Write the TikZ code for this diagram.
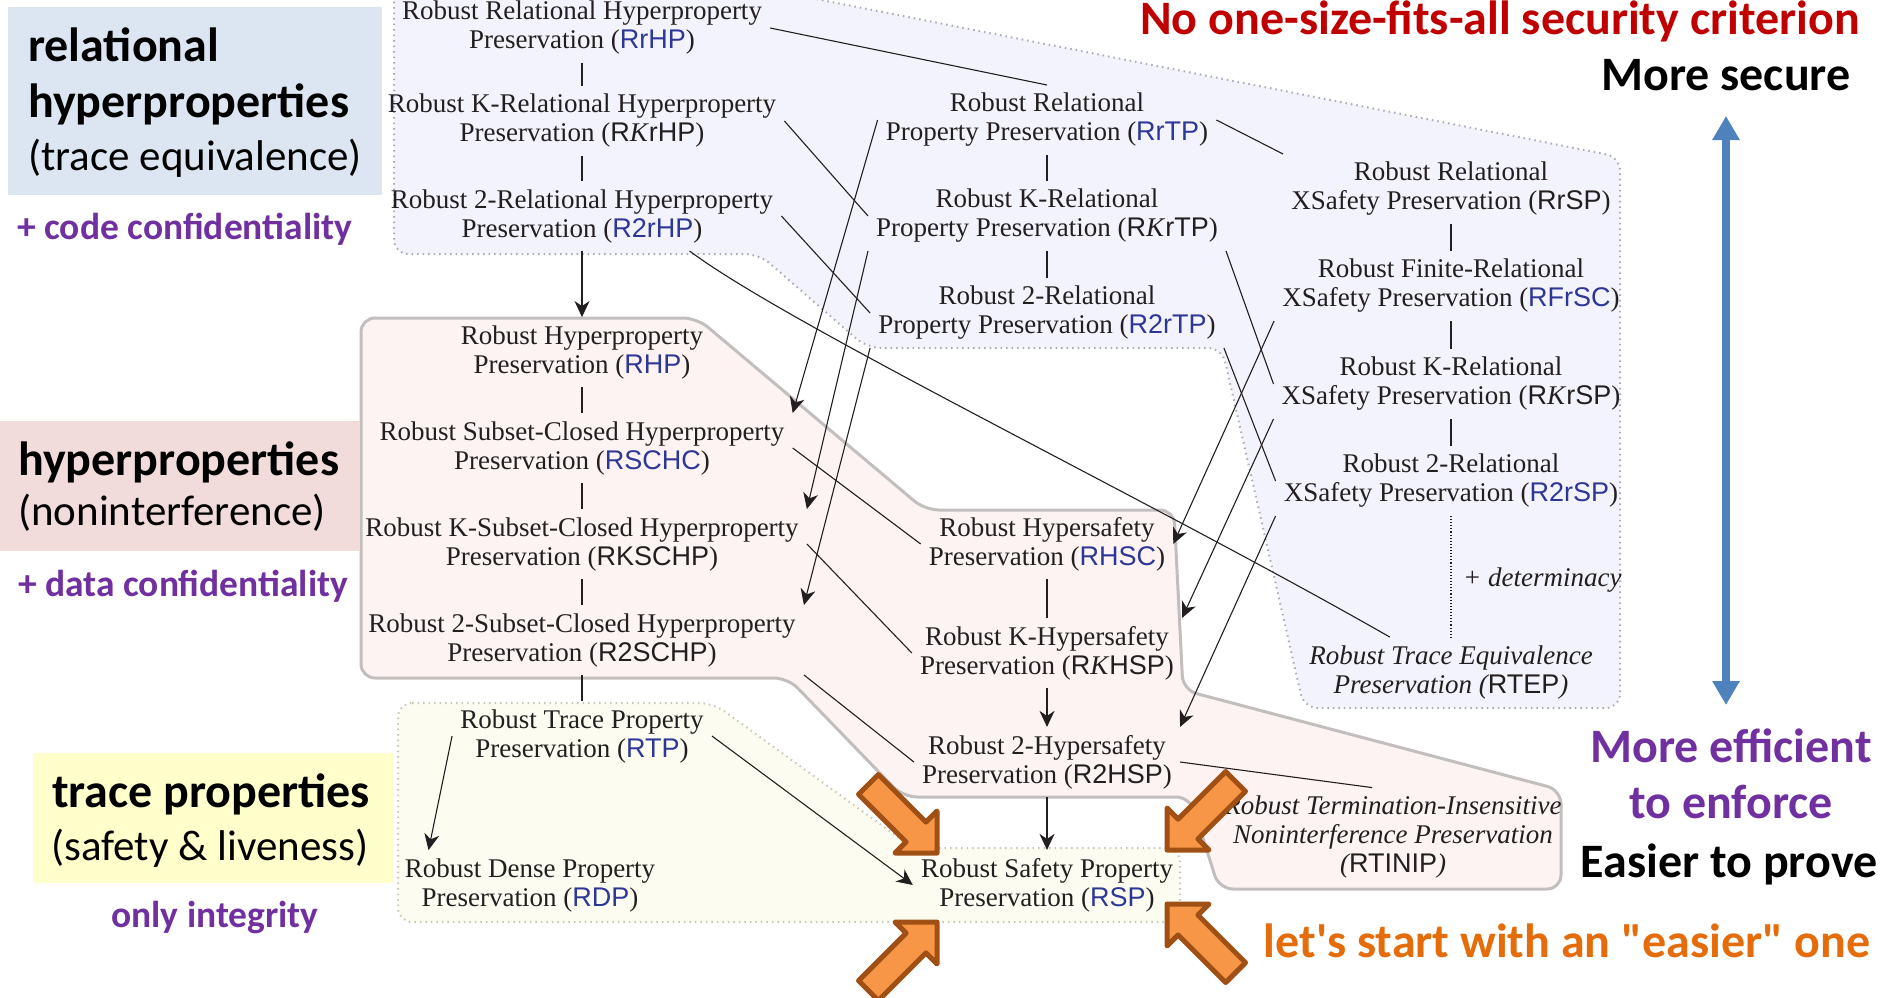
\documentclass[tikz,border=0pt]{standalone}
\usepackage{fontspec}
\setmainfont{Liberation Serif}
\setsansfont{Liberation Sans}
\newfontfamily\slide{Carlito}[Ligatures=TeXOff]
\usetikzlibrary{arrows.meta,calc}

\definecolor{ink}{RGB}{35,31,32}
\definecolor{abbr}{RGB}{45,55,150}
\definecolor{relfill}{RGB}{243,243,253}
\definecolor{relline}{RGB}{170,170,185}
\definecolor{hypfill}{RGB}{253,243,242}
\definecolor{hypline}{RGB}{195,190,190}
\definecolor{trfill}{RGB}{252,252,240}
\definecolor{trline}{RGB}{200,200,185}
\definecolor{relbox}{RGB}{220,230,242}
\definecolor{hypbox}{RGB}{242,220,219}
\definecolor{trbox}{RGB}{255,255,204}
\definecolor{purp}{RGB}{112,48,160}
\definecolor{darkred}{RGB}{192,0,0}
\definecolor{orangetxt}{RGB}{228,108,10}
\definecolor{orfill}{RGB}{247,150,70}
\definecolor{ordraw}{RGB}{160,80,20}
\definecolor{steel}{RGB}{79,129,189}

\newcommand\propsize{\fontsize{27}{29}\selectfont}
\newcommand\ab[1]{\textcolor{abbr}{\textsf{#1}}}
\newcommand\kk{\textit{K}}

\tikzset{
  prop/.style={align=center, font=\propsize, text=ink, inner sep=8pt},
  conn/.style={draw=ink, line width=1.1pt},
  arr/.style={conn, -{Stealth[length=16pt,width=15pt,inset=5pt]}},
  region/.style={rounded corners=14pt},
  labelbig/.style={font=\slide\bfseries\fontsize{48}{50}\selectfont, inner sep=0pt},
  labelsub/.style={font=\slide\fontsize{43}{48}\selectfont, inner sep=0pt},
  note/.style={font=\slide\bfseries\fontsize{37.5}{40}\selectfont, text=purp, inner sep=0pt},
  slidetxt/.style={font=\slide\bfseries\fontsize{48}{50}\selectfont, inner sep=0pt},
  bigarrow/.pic={
    \path[fill=orfill, draw=ordraw, line width=5pt, line join=round]
      (0,0) -- (0,-42) -- (-11.1,-30.9) -- (-58.7,-78.5) -- (-78.5,-58.7)
      -- (-30.9,-11.1) -- (-42,0) -- cycle;
  }
}

\begin{document}
\begin{tikzpicture}[x=1pt,y=-1pt]
\useasboundingbox (0,0) rectangle (1883,997);

% shaded families of criteria
\path[region, fill=relfill, draw=relline, line width=2pt, dash pattern=on 1.5pt off 4pt]
  (394,-40) -- (394,254) -- (759,254) -- (867,348) -- (1222,348) -- (1304,708)
  -- (1620,708) -- (1620,157) -- (618,-40) -- cycle;
\path[region, fill=hypfill, draw=hypline, line width=3pt]
  (361,318) -- (697,318) -- (925,510) -- (1174,510) -- (1183,690) -- (1561,790)
  -- (1561,889) -- (1219,889) -- (1190,797) -- (903,797) -- (788,678) -- (361,678) -- cycle;
\path[region, fill=trfill, draw=trline, line width=2pt, dash pattern=on 1.5pt off 4pt]
  (398,703) -- (713,703) -- (913,848) -- (1180,848) -- (1180,922) -- (398,922) -- cycle;

% category labels on the left
\fill[relbox] (8,7) rectangle (382,195);
\fill[hypbox] (0,421) rectangle (360,551);
\fill[trbox] (33,753) rectangle (394,883);

\node[labelbig, anchor=base west] (relA) at (28,61) {relational};
\node[labelbig, anchor=base west] (relB) at (28,117) {hyperproperties};
\node[labelsub, anchor=base west] (relC) at (28,170) {(trace equivalence)};
\node[note, anchor=base west] (relN) at (17,239) {+ code confidentiality};
\node[labelbig, anchor=base west] (hypA) at (18,475) {hyperproperties};
\node[labelsub, anchor=base west] (hypB) at (18,525) {(noninterference)};
\node[note, anchor=base west] (hypN) at (18,596) {+ data confidentiality};
\node[labelbig, anchor=base] (trA) at (211,807) {trace properties};
\node[labelsub, anchor=base] (trB) at (210,860) {(safety \& liveness)};
\node[note, anchor=base] (trN) at (215,927) {only integrity};

% relational hyperproperties and relational properties
\node[prop] (RrHP) at (582,28) {Robust Relational Hyperproperty\\Preservation (\ab{RrHP})};
\node[prop] (RKrHP) at (582,121) {Robust K-Relational Hyperproperty\\Preservation (\textsf{R}\kk\textsf{rHP})};
\node[prop] (R2rHP) at (582,216) {Robust 2-Relational Hyperproperty\\Preservation (\ab{R2rHP})};
\node[prop] (RrTP) at (1047,120) {Robust Relational\\Property Preservation (\ab{RrTP})};
\node[prop] (RKrTP) at (1047,216) {Robust K-Relational\\Property Preservation (\textsf{R}\kk\textsf{rTP})};
\node[prop] (R2rTP) at (1047,313) {Robust 2-Relational\\Property Preservation (\ab{R2rTP})};
\node[prop] (RrSP) at (1451,189) {Robust Relational\\XSafety Preservation (\textsf{RrSP})};
\node[prop] (RFrSC) at (1451,286) {Robust Finite-Relational\\XSafety Preservation (\ab{RFrSC})};
\node[prop] (RKrSP) at (1451,384) {Robust K-Relational\\XSafety Preservation (\textsf{R}\kk\textsf{rSP})};
\node[prop] (R2rSP) at (1451,481) {Robust 2-Relational\\XSafety Preservation (\ab{R2rSP})};
\node[prop, font=\propsize\itshape] (RTEP) at (1451,672) {Robust Trace Equivalence\\Preservation (\textsf{\upshape RTEP})};
\node[prop, font=\propsize\itshape, anchor=base west, inner sep=0pt] (det) at (1463,586) {+ determinacy};

% hyperproperties
\node[prop] (RHP) at (582,352) {Robust Hyperproperty\\Preservation (\ab{RHP})};
\node[prop] (RSCHC) at (582,448) {Robust Subset-Closed Hyperproperty\\Preservation (\ab{RSCHC})};
\node[prop] (RKSCHP) at (582,544) {Robust K-Subset-Closed Hyperproperty\\Preservation (\textsf{RKSCHP})};
\node[prop] (R2SCHP) at (582,640) {Robust 2-Subset-Closed Hyperproperty\\Preservation (\textsf{R2SCHP})};
\node[prop] (RHSC) at (1047,544) {Robust Hypersafety\\Preservation (\ab{RHSC})};
\node[prop] (RKHSP) at (1047,653) {Robust K-Hypersafety\\Preservation (\textsf{R}\kk\textsf{HSP})};
\node[prop] (R2HSP) at (1047,762) {Robust 2-Hypersafety\\Preservation (\textsf{R2HSP})};
\node[prop, font=\propsize\itshape] (RTINIP) at (1393,837) {Robust Termination-Insensitive\\Noninterference Preservation\\(\textsf{\upshape RTINIP})};

% trace properties
\node[prop] (RTP) at (582,736) {Robust Trace Property\\Preservation (\ab{RTP})};
\node[prop] (RDP) at (530,885) {Robust Dense Property\\Preservation (\ab{RDP})};
\node[prop] (RSP) at (1047,885) {Robust Safety Property\\Preservation (\ab{RSP})};

% implications
\draw[conn] (RrHP) -- (RKrHP);
\draw[conn] (RKrHP) -- (R2rHP);
\draw[arr] (R2rHP) -- (RHP);
\draw[conn] (RrHP.east) -- (RrTP.north);
\draw[conn] (RrTP.east) -- (RrSP.north west);
\draw[conn] (RrTP) -- (RKrTP);
\draw[conn] (RKrTP) -- (R2rTP);
\draw[conn] (RKrHP.east) -- (RKrTP.west);
\draw[conn] (R2rHP.east) -- (R2rTP.west);
\draw[conn] (RrSP) -- (RFrSC);
\draw[conn] (RFrSC) -- (RKrSP);
\draw[conn] (RKrSP) -- (R2rSP);
\draw[conn] (RKrTP.south east) -- (RKrSP.west);
\draw[conn] (R2rTP.south east) -- (R2rSP.west);
\draw[conn, dotted] (R2rSP) -- (RTEP);
\draw[conn] (R2rHP.-18) .. controls +(100,75) and +(-301,-172) .. (RTEP);
\draw[arr] (RrTP.west) -- (RSCHC.north east);
\draw[arr] (RKrTP.south west) -- (RKSCHP.north east);
\draw[arr] (R2rTP.south west) -- (R2SCHP.north east);
\draw[arr] (RFrSC.south west) -- (RHSC.east);
\draw[arr] (RKrSP.south west) -- (RKHSP.north east);
\draw[arr] (R2rSP.south west) -- (R2HSP.north east);
\draw[conn] (RHP) -- (RSCHC);
\draw[conn] (RSCHC) -- (RKSCHP);
\draw[conn] (RKSCHP) -- (R2SCHP);
\draw[conn] (RSCHC.east) -- (RHSC.west);
\draw[conn] (RKSCHP.east) -- (RKHSP.west);
\draw[conn] (R2SCHP.south east) -- (R2HSP.west);
\draw[conn] (RHSC) -- (RKHSP);
\draw[arr] (RKHSP) -- (R2HSP);
\draw[arr] (R2HSP) -- (RSP);
\draw[conn] (R2HSP.east) -- (RTINIP.113);
\draw[conn] (R2SCHP) -- (RTP);
\draw[arr] (RTP.west) -- (RDP.161);
\draw[arr] (RTP.east) -- (RSP.west);

% block arrows pointing at RSP
\pic at (937,853) {bigarrow};
\pic[xscale=-1] at (1167,850) {bigarrow};
\pic[yscale=-1] at (937,922) {bigarrow};
\pic[xscale=-1, yscale=-1] at (1167,904) {bigarrow};

% scale of security vs. cost
\coordinate (secTop) at (1726,116);
\coordinate (secBot) at (1726,705);
\draw[steel, line width=8pt, {Triangle[length=24pt,width=26pt]}-{Triangle[length=24pt,width=26pt]}] (secTop) -- (secBot);

\node[slidetxt, text=darkred, anchor=base] (title) at (1500,34) {No one-size-fits-all security criterion};
\node[slidetxt, anchor=base] (secure) at (1726,90) {More secure};
\node[slidetxt, text=purp, anchor=base] (eff) at (1731,762) {More efficient};
\node[slidetxt, text=purp, anchor=base] (enf) at (1731,818) {to enforce};
\node[slidetxt, anchor=base] (easy) at (1729,877) {Easier to prove};
\node[slidetxt, text=orangetxt, anchor=base] (start) at (1567,957) {let's start with an "easier" one};
\end{tikzpicture}
\end{document}
